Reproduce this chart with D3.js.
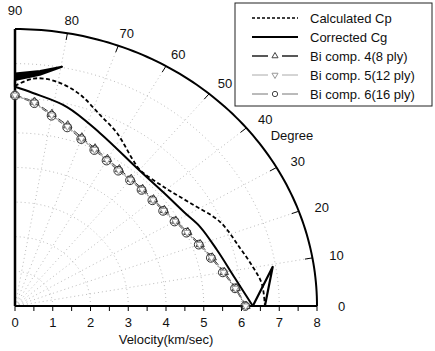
<!DOCTYPE html>
<html>
<head>
<meta charset="utf-8">
<script src="https://cdn.jsdelivr.net/npm/d3@7"></script>
<style>
  body { margin: 0; background: #fff; }
  svg text { font-family: Arial, "Liberation Sans", sans-serif; fill: #111; }
</style>
</head>
<body>
<div id="display"></div>
<script>
const width = 435, height = 351

// angle (deg) / velocity (km/sec)
// Cg: top cusp (0-4), main branch (5-15), bottom cusp (15-17)
const cgAngles = [90, 84.4, 79.8, 84.4, 90, 90, 85.6, 76.5, 65.8, 51, 40, 30.9, 25, 16.8, 7.9, 0, 9.4, 0]
const cgValues = [6.71, 6.82, 7.02, 6.71, 6.53, 6.33, 6.17, 5.91, 5.48, 5.13, 5.12, 5.24, 5.41, 5.59, 5.88, 6.30, 6.92, 6.62]

const cpAngles = [90, 86, 83.1, 80.3, 77, 73.4, 67.8, 61.6, 53.5, 49.9, 40.7, 32.7, 24.1, 15.7, 10.2, 5.6, 0]
const cpValues = [6.36, 6.58, 6.61, 6.57, 6.47, 6.30, 5.96, 5.68, 5.25, 5.14, 5.24, 5.51, 5.95, 6.19, 6.40, 6.57, 6.62]

const markerAngles = [90, 85, 80, 75, 70, 65, 60, 55, 50, 45, 40, 35, 30, 25, 20, 15, 10, 5, 0]
const comp4 = [6.10, 5.92, 5.63, 5.40, 5.18, 5.02, 4.90, 4.82, 4.79, 4.78, 4.79, 4.83, 4.92, 5.05, 5.22, 5.41, 5.63, 5.88, 6.12]
const comp5 = [6.09, 5.90, 5.60, 5.37, 5.15, 4.99, 4.87, 4.79, 4.76, 4.76, 4.77, 4.81, 4.90, 5.03, 5.20, 5.39, 5.61, 5.86, 6.11]
const comp6 = [6.08, 5.88, 5.58, 5.34, 5.13, 4.97, 4.85, 4.77, 4.74, 4.74, 4.75, 4.79, 4.88, 5.01, 5.18, 5.37, 5.59, 5.85, 6.10]

const velTicks = [0, 1, 2, 3, 4, 5, 6, 7, 8]
const halfTicks = [0, 0.5, 1, 1.5, 2, 2.5, 3, 3.5, 4, 4.5, 5, 5.5, 6, 6.5, 7, 7.5, 8]
const degTicks = [0, 10, 20, 30, 40, 50, 60, 70, 80, 90]
const rings = [1, 2, 3, 4, 5, 6, 7]

const legendNames = ['Calculated Cp', 'Corrected Cg', 'Bi comp. 4(8 ply)', 'Bi comp. 5(12 ply)', 'Bi comp. 6(16 ply)']

const svg = d3.select('#display').append('svg')
    .attr('width', width)
    .attr('height', height)

const xScale = d3.scaleLinear().domain([0, 8]).range([15, 317])
const yScale = d3.scaleLinear().domain([0, 8]).range([306, 29])

const rad = a => a * Math.PI / 180
const px = (a, v) => xScale(v * Math.cos(rad(a)))
const py = (a, v) => yScale(v * Math.sin(rad(a)))

const line = d3.line()
    .x(d => px(d[0], d[1]))
    .y(d => py(d[0], d[1]))
const smooth = d3.line()
    .x(d => px(d[0], d[1]))
    .y(d => py(d[0], d[1]))
    .curve(d3.curveCatmullRom.alpha(0.5))

const arcPts = r => d3.range(0, 90.5, 1).map(a => [a, r])

// grid
svg.selectAll('.ring').data(rings)
    .enter().append('path')
    .attr('d', r => line(arcPts(r)))
    .attr('fill', 'none')
    .attr('stroke', '#aaa')
    .attr('stroke-width', 0.8)
    .attr('stroke-dasharray', '1,3')

svg.selectAll('.ray').data(degTicks.filter(a => a > 0 && a < 90))
    .enter().append('path')
    .attr('d', a => line([[a, 0], [a, 8]]))
    .attr('stroke', '#aaa')
    .attr('stroke-width', 0.8)
    .attr('stroke-dasharray', '1,3')

// outer arc and axes
svg.append('path')
    .attr('d', line(arcPts(8)))
    .attr('fill', 'none')
    .attr('stroke', '#000')
    .attr('stroke-width', 2)

svg.append('path')
    .attr('d', line([[90, 0], [90, 8]]))
    .attr('stroke', '#000')
    .attr('stroke-width', 2.5)

svg.append('path')
    .attr('d', line([[0, 0], [0, 8]]))
    .attr('stroke', '#000')
    .attr('stroke-width', 2)

svg.selectAll('.dtick').data(degTicks.filter(a => a > 0 && a < 90))
    .enter().append('path')
    .attr('d', a => line([[a, 7.8], [a, 8]]))
    .attr('stroke', '#000')
    .attr('stroke-width', 1)

svg.selectAll('.vtick').data(halfTicks)
    .enter().append('line')
    .attr('x1', d => xScale(d)).attr('x2', d => xScale(d))
    .attr('y1', yScale(0)).attr('y2', yScale(0) + 5)
    .attr('stroke', '#000')
    .attr('stroke-width', 1)

svg.selectAll('.vlabel').data(velTicks)
    .enter().append('text')
    .attr('x', d => xScale(d))
    .attr('y', yScale(0) + 21)
    .attr('text-anchor', 'middle')
    .style('font-size', '13px')
    .text(d => d)

// angle labels sit a little further out horizontally than vertically
svg.selectAll('.dlabel').data(degTicks)
    .enter().append('text')
    .attr('x', a => px(a, 8.65))
    .attr('y', a => py(a, a == 90 ? 8.55 : 8.4) + 5)
    .attr('text-anchor', 'middle')
    .style('font-size', '13px')
    .text(a => a)

svg.append('text')
    .attr('x', px(34, 8.85))
    .attr('y', py(34, 8.85) + 5)
    .attr('text-anchor', 'middle')
    .style('font-size', '13px')
    .text('Degree')

svg.append('text')
    .attr('x', xScale(4))
    .attr('y', 344)
    .attr('text-anchor', 'middle')
    .style('font-size', '13px')
    .text('Velocity(km/sec)')

// marker series
const series = [
    {vals: comp4, stroke: '#333', dash: '7,3', mark: 'tri', mcol: '#444'},
    {vals: comp5, stroke: '#aaa', dash: null, mark: 'tri2', mcol: '#999'},
    {vals: comp6, stroke: '#666', dash: '5,2,1,2', mark: 'circ', mcol: '#333'}
]
const symbolFor = {
    tri: d3.symbol().type(d3.symbolTriangle).size(30),
    tri2: d3.symbol().type(d3.symbolTriangle).size(22),
    circ: d3.symbol().type(d3.symbolCircle).size(60)
}

series.forEach(s => {
    const pts = markerAngles.map((a, i) => [a, s.vals[i]])
    svg.append('path')
        .attr('d', line(pts))
        .attr('fill', 'none')
        .attr('stroke', s.stroke)
        .attr('stroke-width', 1)
        .attr('stroke-dasharray', s.dash)
})
series.forEach(s => {
    const pts = markerAngles.map((a, i) => [a, s.vals[i]])
    svg.selectAll(null).data(pts)
        .enter().append('path')
        .attr('d', symbolFor[s.mark])
        .attr('transform', d => 'translate(' + px(d[0], d[1]) + ',' + py(d[0], d[1]) + ')' + (s.mark == 'tri2' ? ' rotate(180)' : ''))
        .attr('fill', s.mark == 'circ' ? 'none' : 'white')
        .attr('stroke', s.mcol)
        .attr('stroke-width', 1)
})

// Cp and Cg curves
svg.append('path')
    .attr('d', smooth(cpAngles.map((a, i) => [a, cpValues[i]])))
    .attr('fill', 'none')
    .attr('stroke', '#000')
    .attr('stroke-width', 1.8)
    .attr('stroke-dasharray', '4,2.5')

const cgPts = cgAngles.map((a, i) => [a, cgValues[i]])
svg.append('path')
    .attr('d', line(cgPts.slice(0, 6)))
    .attr('fill', '#000')
    .attr('stroke', '#000')
    .attr('stroke-width', 2.2)
    .attr('stroke-linejoin', 'round')
svg.append('path')
    .attr('d', smooth(cgPts.slice(5, 16)))
    .attr('fill', 'none')
    .attr('stroke', '#000')
    .attr('stroke-width', 2)
svg.append('path')
    .attr('d', line(cgPts.slice(15)))
    .attr('fill', 'none')
    .attr('stroke', '#000')
    .attr('stroke-width', 2.2)
    .attr('stroke-linejoin', 'round')

// legend
const legend = svg.append('g')
legend.append('rect')
    .attr('x', 235).attr('y', 3)
    .attr('width', 197).attr('height', 103)
    .attr('fill', 'white')
    .attr('stroke', '#222')
    .attr('stroke-width', 1)

const legendStyle = [
    {stroke: '#000', w: 1.5, dash: '3,2', mark: null},
    {stroke: '#000', w: 2, dash: null, mark: null},
    {stroke: '#222', w: 1.5, dash: '16,14', mark: 'tri'},
    {stroke: '#aaa', w: 1, dash: '16,14', mark: 'tri2'},
    {stroke: '#777', w: 1, dash: '16,14', mark: 'circ'}
]

legendNames.forEach((name, i) => {
    const y = 18 + i * 19
    const st = legendStyle[i]
    legend.append('line')
        .attr('x1', 252).attr('x2', 298)
        .attr('y1', y).attr('y2', y)
        .attr('stroke', st.stroke)
        .attr('stroke-width', st.w)
        .attr('stroke-dasharray', st.dash)
    if (st.mark) {
        legend.append('path')
            .attr('d', d3.symbol().type(st.mark == 'circ' ? d3.symbolCircle : d3.symbolTriangle).size(st.mark == 'circ' ? 22 : 16))
            .attr('transform', 'translate(275,' + y + ')' + (st.mark == 'tri2' ? ' rotate(180)' : ''))
            .attr('fill', 'white')
            .attr('stroke', st.mark == 'tri2' ? '#999' : '#444')
            .attr('stroke-width', 1)
    }
    legend.append('text')
        .attr('x', 310)
        .attr('y', y + 4.5)
        .style('font-size', '13px')
        .text(name)
})
</script>
</body>
</html>
